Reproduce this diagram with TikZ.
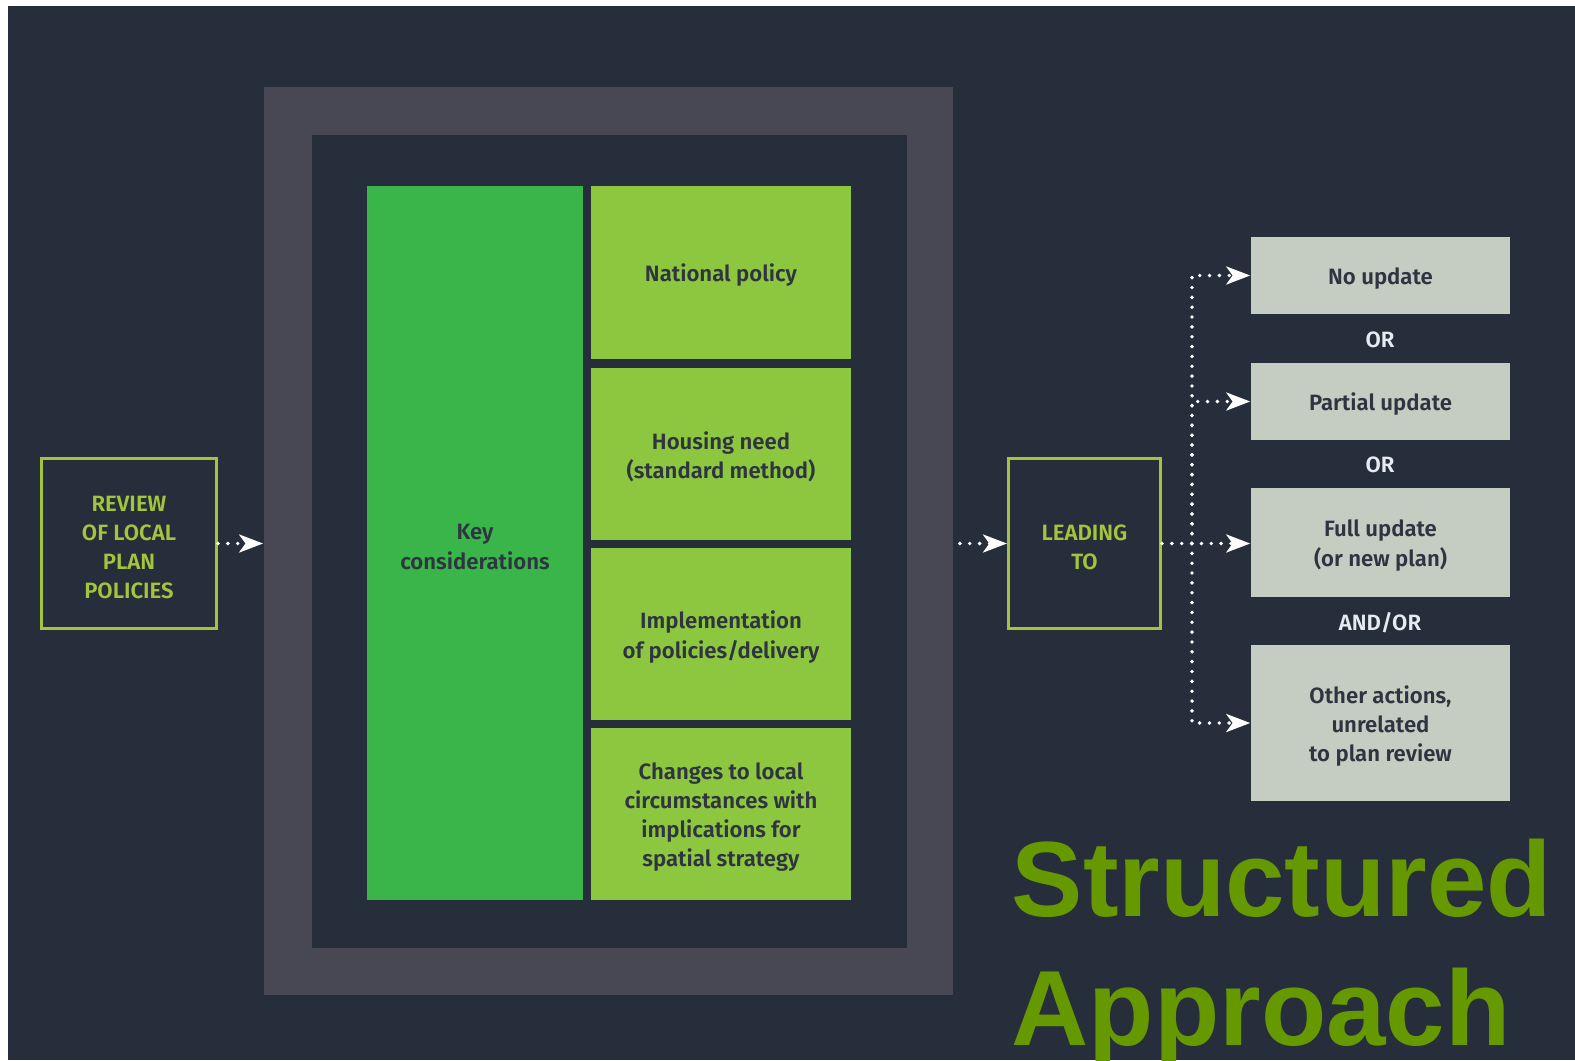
\documentclass[tikz,border=0pt]{standalone}
\usepackage{fontspec}
\setmainfont{Fira Sans}[BoldFont={* SemiBold}]
\newfontfamily\titlefont{Liberation Sans}
\usetikzlibrary{arrows.meta}
\definecolor{bgdark}{HTML}{262D3B}
\definecolor{framegrey}{HTML}{484754}
\definecolor{keygreen}{HTML}{39B54A}
\definecolor{lightgreen}{HTML}{8DC63F}
\definecolor{boxgrey}{HTML}{C5CCC1}
\definecolor{textdark}{HTML}{2E3440}
\definecolor{limeline}{HTML}{A4C43C}
\definecolor{ortext}{HTML}{E6EBF1}
\definecolor{titlegreen}{HTML}{669900}

\begin{document}
\begin{tikzpicture}[x=0.01cm, y=-0.01cm,
	boxtext/.style={font=\bfseries\fontsize{6.3}{8.3}\selectfont, align=center, inner sep=0pt, text=textdark, yshift=-0.03cm},
	factor/.style={fill=lightgreen, inner sep=0pt, minimum width=2.6cm, minimum height=1.72cm},
	outcome/.style={fill=boxgrey, inner sep=0pt, minimum width=2.59cm},
	stage/.style={draw=limeline, line width=0.85pt, inner sep=0pt, minimum height=1.7cm},
	stagetext/.style={boxtext, text=limeline, yshift=-0.01cm},
	joiner/.style={font=\bfseries\fontsize{6.3}{8.3}\selectfont, text=ortext, inner sep=0pt},
	flow/.style={white, line width=1.1pt, dash pattern=on 0pt off 2.8pt, line cap=round, -{Stealth[length=6.8pt, width=5.1pt, inset=1.8pt]}}]
					\useasboundingbox (0,0) rectangle (1575,1060);
					\fill[white] (0,0) rectangle (1575,1060);
					\fill[bgdark] (8,6) rectangle (1575,1060);
					
					\node[fill=framegrey, minimum width=6.89cm, minimum height=9.08cm, inner sep=0pt] (frame) at (608.5,541) {};
					\node[fill=bgdark, minimum width=5.95cm, minimum height=8.13cm, inner sep=0pt] (inner) at (609.5,541.5) {};
					
					\node[fill=keygreen, inner sep=0pt, minimum width=2.16cm, minimum height=7.14cm, label={[boxtext, yshift=-0.01cm, name=keytext]center:{Key\\considerations}}] (key) at (475,543) {};
					\node[factor, minimum height=1.73cm, label={[boxtext, name=natpoltext]center:National policy}] (natpol) at (721,272.5) {};
					\node[factor, label={[boxtext, name=housingtext]center:{Housing need\\(standard method)}}] (housing) at (721,454) {};
					\node[factor, label={[boxtext, name=deliverytext]center:{Implementation\\of policies/delivery}}] (delivery) at (721,634) {};
					\node[factor, label={[boxtext, name=changestext]center:{Changes to local\\circumstances with\\implications for\\spatial strategy}}] (changes) at (721,814) {};
					
					\node[stage, minimum width=1.75cm, label={[stagetext, name=reviewtext]center:{REVIEW\\OF LOCAL\\PLAN\\POLICIES}}] (review) at (129,543.5) {};
					\node[stage, minimum width=1.52cm, label={[stagetext, name=leadingtext]center:{LEADING\\TO}}] (leading) at (1084.5,543.5) {};
					
					\node[outcome, minimum height=0.77cm, label={[boxtext, name=noupdtext]center:No update}] (noupd) at (1380.5,275.5) {};
					\node[outcome, minimum height=0.77cm, label={[boxtext, name=partupdtext]center:Partial update}] (partupd) at (1380.5,401.5) {};
					\node[outcome, minimum height=1.09cm, label={[boxtext, name=fullupdtext]center:{Full update\\(or new plan)}}] (fullupd) at (1380.5,542.5) {};
					\node[outcome, minimum height=1.56cm, label={[boxtext, name=otheracttext]center:{Other actions,\\unrelated\\to plan review}}] (otheract) at (1380.5,723) {};
					
					\node[joiner] (or1) at (1380,340) {OR};
					\node[joiner] (or2) at (1380,465) {OR};
					\node[joiner] (andor) at (1380,623) {AND/OR};
					
					\draw[flow] (review.east) -- (review.east -| frame.west);
					\draw[flow, shorten <=0.06cm] (frame.east |- leading) -- (leading.west);
					\coordinate (fork) at (1192,543.5);
					\draw[flow] (leading.east) -- (leading.east -| fullupd.west);
					\draw[flow] (fork) |- (noupd.west);
					\draw[flow] (fork) |- (partupd.west);
					\draw[flow] (fork) |- (otheract.west);
					
					\node[anchor=north west, inner sep=0pt, align=left, text=titlegreen, font=\titlefont\bfseries\fontsize{30.4}{36.7}\selectfont] (title) at (1011,838) {Structured\\Approach};
				\end{tikzpicture}
\end{document}
